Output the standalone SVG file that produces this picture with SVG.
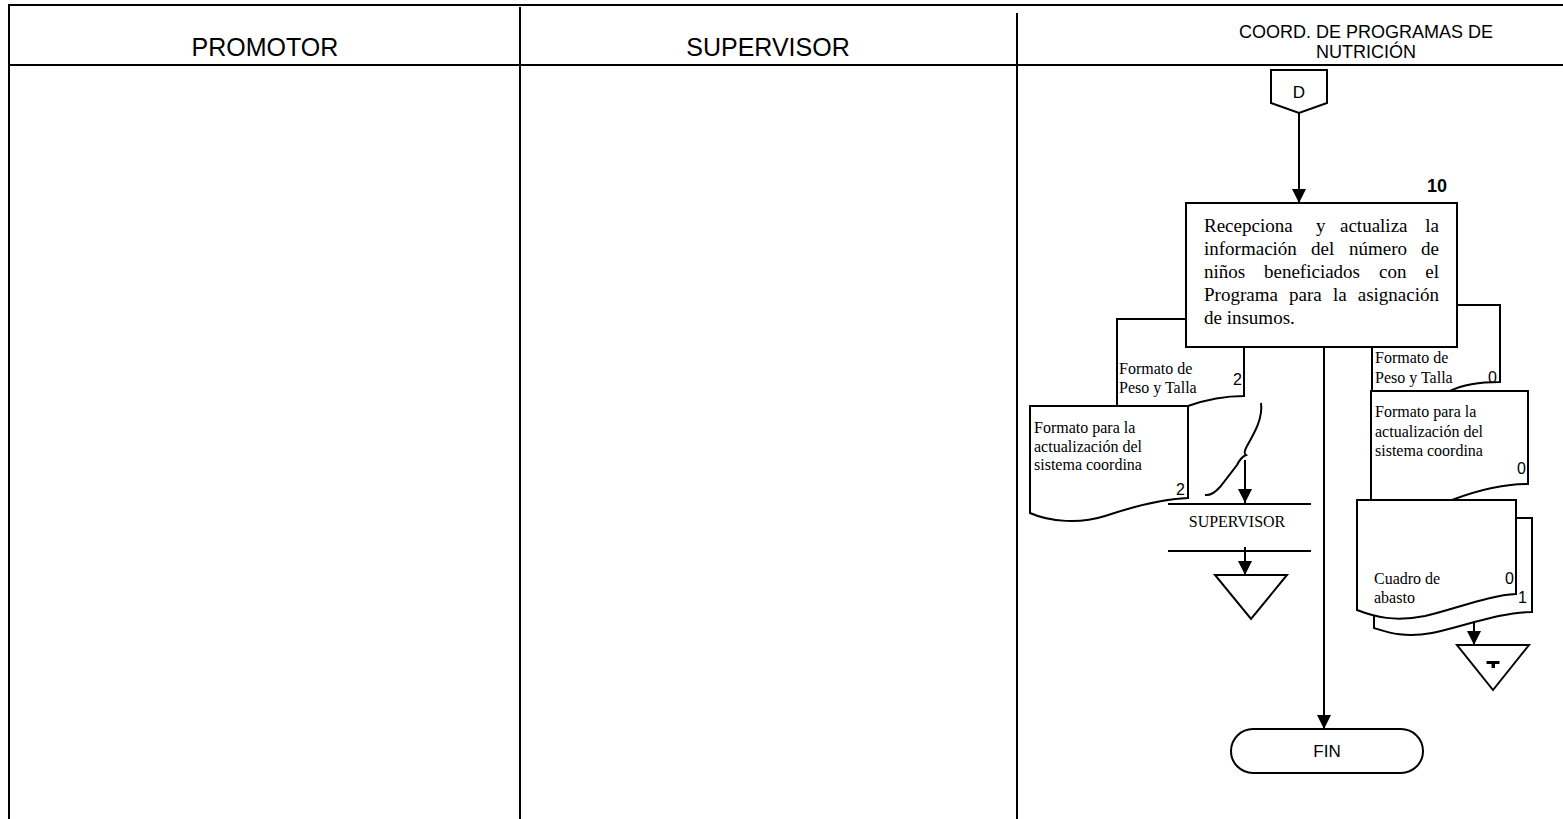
<svg xmlns="http://www.w3.org/2000/svg" width="1563" height="819" viewBox="0 0 1563 819">
<style>
.ln{stroke:#000;stroke-width:2;fill:none}
.shp{fill:#fff;stroke:#000;stroke-width:2}
.hdr{font-family:"Liberation Sans",Arial,sans-serif;font-size:25px;fill:#000;text-anchor:middle}
.hdr2{font-family:"Liberation Sans",Arial,sans-serif;font-size:18px;fill:#000;text-anchor:middle}
.bt{font-family:"Liberation Serif","Times New Roman",serif;font-size:19px;fill:#000}
.dt{font-family:"Liberation Serif","Times New Roman",serif;font-size:16px;fill:#000}
.num{font-family:"Liberation Sans",Arial,sans-serif;font-size:16px;fill:#000;text-anchor:end}
.sans{font-family:"Liberation Sans",Arial,sans-serif;fill:#000;text-anchor:middle}
</style>
<defs>
<marker id="ah" viewBox="0 0 14 14" refX="14" refY="7" markerWidth="14" markerHeight="14" markerUnits="userSpaceOnUse" orient="auto">
<path d="M0,0 L14,7 L0,14 Z" fill="#000"/>
</marker>
</defs>
<rect width="1563" height="819" fill="#fff"/>
<g id="lanes">
<line class="ln" x1="9" y1="5" x2="1563" y2="5" stroke-width="2.5"/>
<line class="ln" x1="9" y1="65" x2="1563" y2="65"/>
<line class="ln" x1="9" y1="4" x2="9" y2="819"/>
<line class="ln" x1="520" y1="7" x2="520" y2="819"/>
<line class="ln" x1="1017" y1="13" x2="1017" y2="819"/>
<text class="hdr" x="265" y="56">PROMOTOR</text>
<text class="hdr" x="768" y="56">SUPERVISOR</text>
<text class="hdr2" x="1366" y="38">COORD. DE PROGRAMAS DE</text>
<text class="hdr2" x="1366" y="58">NUTRICIÓN</text>
</g>
<g id="connectors">
<line class="ln" x1="1299" y1="113" x2="1299" y2="203" marker-end="url(#ah)"/>
<line class="ln" x1="1324" y1="347" x2="1324" y2="729" marker-end="url(#ah)"/>
<line class="ln" x1="1245" y1="460" x2="1245" y2="503" marker-end="url(#ah)"/>
<line class="ln" x1="1245" y1="547" x2="1245" y2="575" marker-end="url(#ah)"/>
<line class="ln" x1="1474" y1="617" x2="1474" y2="645" marker-end="url(#ah)"/>
</g>
<g id="conector-D">
<path class="shp" d="M1271,70 H1327 V103 L1299,113 L1271,103 Z"/>
<text class="sans" x="1299" y="98" font-size="17">D</text>
</g>
<g id="doc-peso-talla-2">
<path class="shp" d="M1117,319 H1244 V396 C1225,396 1205,400 1188,406 L1117,406 Z"/>
<text class="dt" x="1119" y="374">Formato de</text>
<text class="dt" x="1119" y="393">Peso y Talla</text>
<text class="num" x="1242" y="385">2</text>
</g>
<g id="doc-peso-talla-0">
<path class="shp" d="M1372,305 H1500 V382 C1480,382 1462,385 1450,391 L1372,391 Z"/>
<text class="dt" x="1375" y="363">Formato de</text>
<text class="dt" x="1375" y="383">Peso y Talla</text>
<text class="num" x="1497" y="383">0</text>
</g>
<g id="actividad-10">
<rect class="shp" x="1186" y="203" width="271" height="144"/>
<text x="1447" y="192" font-family="Liberation Sans, Arial, sans-serif" font-size="18" font-weight="bold" text-anchor="end">10</text>
<text class="bt" y="232"><tspan x="1204">Recepciona</tspan><tspan x="1316">y</tspan><tspan x="1340">actualiza</tspan><tspan x="1439" text-anchor="end">la</tspan></text>
<text class="bt" y="255"><tspan x="1204">información</tspan><tspan x="1311">del</tspan><tspan x="1349">número</tspan><tspan x="1439" text-anchor="end">de</tspan></text>
<text class="bt" y="278"><tspan x="1204">niños</tspan><tspan x="1264">beneficiados</tspan><tspan x="1379">con</tspan><tspan x="1439" text-anchor="end">el</tspan></text>
<text class="bt" y="301"><tspan x="1204">Programa</tspan><tspan x="1289">para</tspan><tspan x="1333">la</tspan><tspan x="1439" text-anchor="end">asignación</tspan></text>
<text class="bt" x="1204" y="324">de insumos.</text>
</g>
<g id="doc-actualizacion-2">
<path class="shp" d="M1030,406 H1188 V498 C1160,499 1132,507 1105,516 C1080,524 1050,522 1030,513 Z"/>
<text class="dt" x="1034" y="433">Formato para la</text>
<text class="dt" x="1034" y="452">actualización del</text>
<text class="dt" x="1034" y="470">sistema coordina</text>
<text class="num" x="1185" y="495">2</text>
</g>
<g id="anotacion">
<path class="ln" stroke-width="1.5" d="M1261,403 C1263,418 1255,432 1247,446 Q1243,453 1246,455 Q1241,457 1237,465 L1220,487 Q1212,496 1205,495"/>
</g>
<g id="supervisor">
<line class="ln" x1="1168" y1="504" x2="1311" y2="504"/>
<line class="ln" x1="1168" y1="551" x2="1311" y2="551"/>
<text x="1237" y="527" font-family="Liberation Serif, Times New Roman, serif" font-size="16" text-anchor="middle">SUPERVISOR</text>
</g>
<g id="archivo-supervisor">
<path class="shp" d="M1215,575 H1287 L1251,619 Z"/>
</g>
<g id="doc-actualizacion-0">
<path class="shp" d="M1371,391 H1528 V484 C1505,484 1478,490 1452,500 L1371,500 Z"/>
<text class="dt" x="1375" y="417">Formato para la</text>
<text class="dt" x="1375" y="437">actualización del</text>
<text class="dt" x="1375" y="456">sistema coordina</text>
<text class="num" x="1526" y="474">0</text>
</g>
<g id="cuadro-abasto">
<path class="shp" d="M1374,518 H1532 V612 C1500,612 1462,627 1432,633 C1405,638 1390,633 1374,628 Z"/>
<path class="shp" d="M1357,500 H1516 V594 C1490,595 1455,609 1425,616 C1395,622 1375,617 1357,610 Z"/>
<text class="dt" x="1374" y="584">Cuadro de</text>
<text class="dt" x="1374" y="603">abasto</text>
<text class="num" x="1514" y="584">0</text>
<text class="num" x="1527" y="603">1</text>
</g>
<g id="archivo-temporal">
<path class="shp" d="M1457,645 H1529 L1493,690 Z"/>
<rect x="1486.5" y="661" width="13" height="3" fill="#000"/>
<rect x="1491.5" y="663" width="3.5" height="5" fill="#000"/>
</g>
<g id="fin">
<rect class="shp" x="1231" y="729" width="192" height="44" rx="22"/>
<text class="sans" x="1327" y="757" font-size="17">FIN</text>
</g>
</svg>
